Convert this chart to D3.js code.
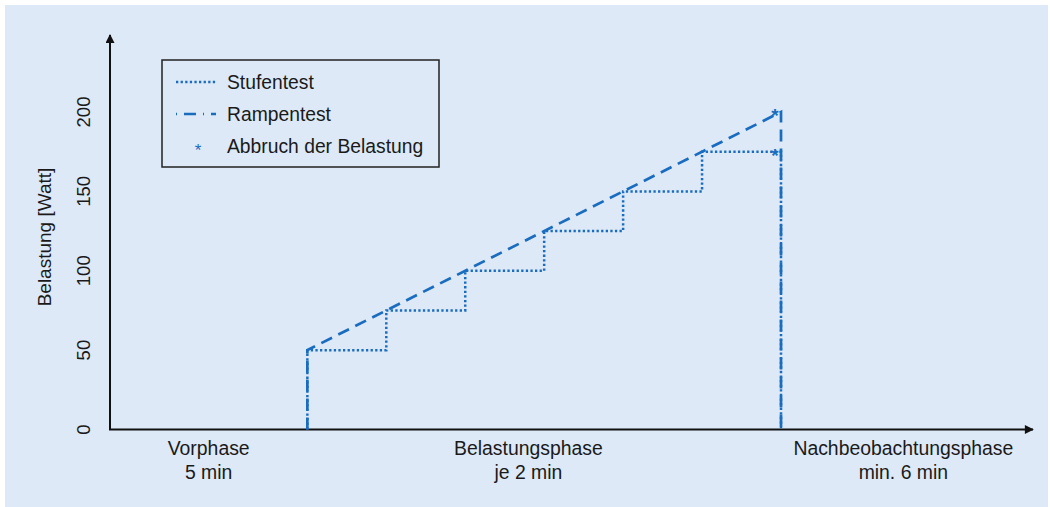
<!DOCTYPE html>
<html>
<head>
<meta charset="utf-8">
<script src="https://cdn.jsdelivr.net/npm/d3@7"></script>
<style>
  body { margin: 0; background: #fff; }
  text { font-family: "Liberation Sans", Arial, sans-serif; fill: #1a1a1a; }
</style>
</head>
<body>
<div id="wrapper"></div>
<script>
// time in minutes, load in Watt
const stufenTimes = [5, 5, 7, 7, 9, 9, 11, 11, 13, 13, 15, 15, 17, 17];
const stufenLoads = [0, 50, 50, 75, 75, 100, 100, 125, 125, 150, 150, 175, 175, 0];
const rampTimes = [5, 5, 17, 17];
const rampLoads = [0, 50, 200, 0];
const abbruchTimes = [17, 17];
const abbruchLoads = [200, 175];
const yTicks = [0, 50, 100, 150, 200];
const phaseNames = ["Vorphase", "Belastungsphase", "Nachbeobachtungsphase"];
const phaseDurations = ["5 min", "je 2 min", "min. 6 min"];
const phaseCenters = [2.5, 10.6, 20.1];
const legendLabels = ["Stufentest", "Rampentest", "Abbruch der Belastung"];

const width = 1050;
const height = 507;
const blue = "#1a6cbf";

const svg = d3
  .select("#wrapper")
  .append("svg")
  .attr("width", width)
  .attr("height", height);

svg
  .append("rect")
  .attr("x", 5)
  .attr("y", 5)
  .attr("width", 1043)
  .attr("height", 502)
  .attr("fill", "#dde9f7");

const x0 = 110;
const y0 = 429.5;

const xScale = d3.scaleLinear().domain([0, 17]).range([x0, 781]);
const yScale = d3.scaleLinear().domain([0, 200]).range([y0, 112]);

const toPoints = (ts, ls) => ts.map((t, i) => [t, ls[i]]);
const line = d3
  .line()
  .x((d) => xScale(d[0]))
  .y((d) => yScale(d[1]));

// axes with arrows
svg
  .append("defs")
  .append("marker")
  .attr("id", "arrow")
  .attr("viewBox", "0 0 10 10")
  .attr("refX", 9)
  .attr("refY", 5)
  .attr("markerWidth", 10)
  .attr("markerHeight", 9)
  .attr("markerUnits", "userSpaceOnUse")
  .attr("orient", "auto")
  .append("path")
  .attr("d", "M0,0 L10,5 L0,10 Z")
  .attr("fill", "#111");

svg
  .append("line")
  .attr("x1", x0)
  .attr("y1", y0)
  .attr("x2", x0)
  .attr("y2", 35)
  .attr("stroke", "#111")
  .attr("stroke-width", 2)
  .attr("marker-end", "url(#arrow)");

svg
  .append("line")
  .attr("x1", x0 - 1)
  .attr("y1", y0)
  .attr("x2", 1033)
  .attr("y2", y0)
  .attr("stroke", "#111")
  .attr("stroke-width", 2)
  .attr("marker-end", "url(#arrow)");

// y tick labels (rotated)
svg
  .selectAll(".ytick")
  .data(yTicks)
  .enter()
  .append("text")
  .attr("class", "ytick")
  .attr("transform", (d) => `translate(90, ${yScale(d)}) rotate(-90)`)
  .attr("text-anchor", "middle")
  .style("font-size", "18.5px")
  .text((d) => d);

svg
  .append("text")
  .attr("transform", "translate(51, 237) rotate(-90)")
  .attr("text-anchor", "middle")
  .style("font-size", "19px")
  .text("Belastung [Watt]");

// phase labels
const phases = svg
  .selectAll(".phase")
  .data(phaseNames)
  .enter()
  .append("text")
  .attr("class", "phase")
  .attr("text-anchor", "middle")
  .style("font-size", "19.4px");

phases
  .append("tspan")
  .attr("x", (d, i) => xScale(phaseCenters[i]))
  .attr("y", 455)
  .text((d) => d);

phases
  .append("tspan")
  .attr("x", (d, i) => xScale(phaseCenters[i]))
  .attr("y", 479)
  .text((d, i) => phaseDurations[i]);

// data lines
svg
  .append("path")
  .attr("d", line(toPoints(rampTimes, rampLoads)))
  .attr("fill", "none")
  .attr("stroke", blue)
  .attr("stroke-width", 2.7)
  .attr("stroke-dasharray", "12,7");

svg
  .append("path")
  .attr("d", line(toPoints(stufenTimes, stufenLoads)))
  .attr("fill", "none")
  .attr("stroke", blue)
  .attr("stroke-width", 2.5)
  .attr("stroke-dasharray", "2.3,2.3");

svg
  .selectAll(".abbruch")
  .data(abbruchTimes)
  .enter()
  .append("text")
  .attr("class", "abbruch")
  .attr("x", (d) => xScale(d) - 6)
  .attr("y", (d, i) => yScale(abbruchLoads[i]) + 10)
  .attr("text-anchor", "middle")
  .style("font-size", "19px")
  .style("font-weight", "bold")
  .style("fill", blue)
  .text("*");

// legend
const legend = svg.append("g");

legend
  .append("rect")
  .attr("x", 162)
  .attr("y", 60)
  .attr("width", 277)
  .attr("height", 107)
  .attr("fill", "none")
  .attr("stroke", "#222")
  .attr("stroke-width", 1.5);

const legendY = [82, 114, 146];

legend
  .append("line")
  .attr("x1", 176)
  .attr("x2", 216)
  .attr("y1", legendY[0])
  .attr("y2", legendY[0])
  .attr("stroke", blue)
  .attr("stroke-width", 2.5)
  .attr("stroke-dasharray", "2.3,2.3");

legend
  .append("line")
  .attr("x1", 176)
  .attr("x2", 216)
  .attr("y1", legendY[1])
  .attr("y2", legendY[1])
  .attr("stroke", blue)
  .attr("stroke-width", 2.7)
  .attr("stroke-dasharray", "1,7,12,7");

legend
  .append("text")
  .attr("x", 198)
  .attr("y", legendY[2] + 10)
  .attr("text-anchor", "middle")
  .style("font-size", "17px")
  .style("fill", blue)
  .text("*");

legend
  .selectAll(".legendLabel")
  .data(legendLabels)
  .enter()
  .append("text")
  .attr("class", "legendLabel")
  .attr("x", 227)
  .attr("y", (d, i) => legendY[i] + 7)
  .style("font-size", "19.3px")
  .text((d) => d);
</script>
</body>
</html>
